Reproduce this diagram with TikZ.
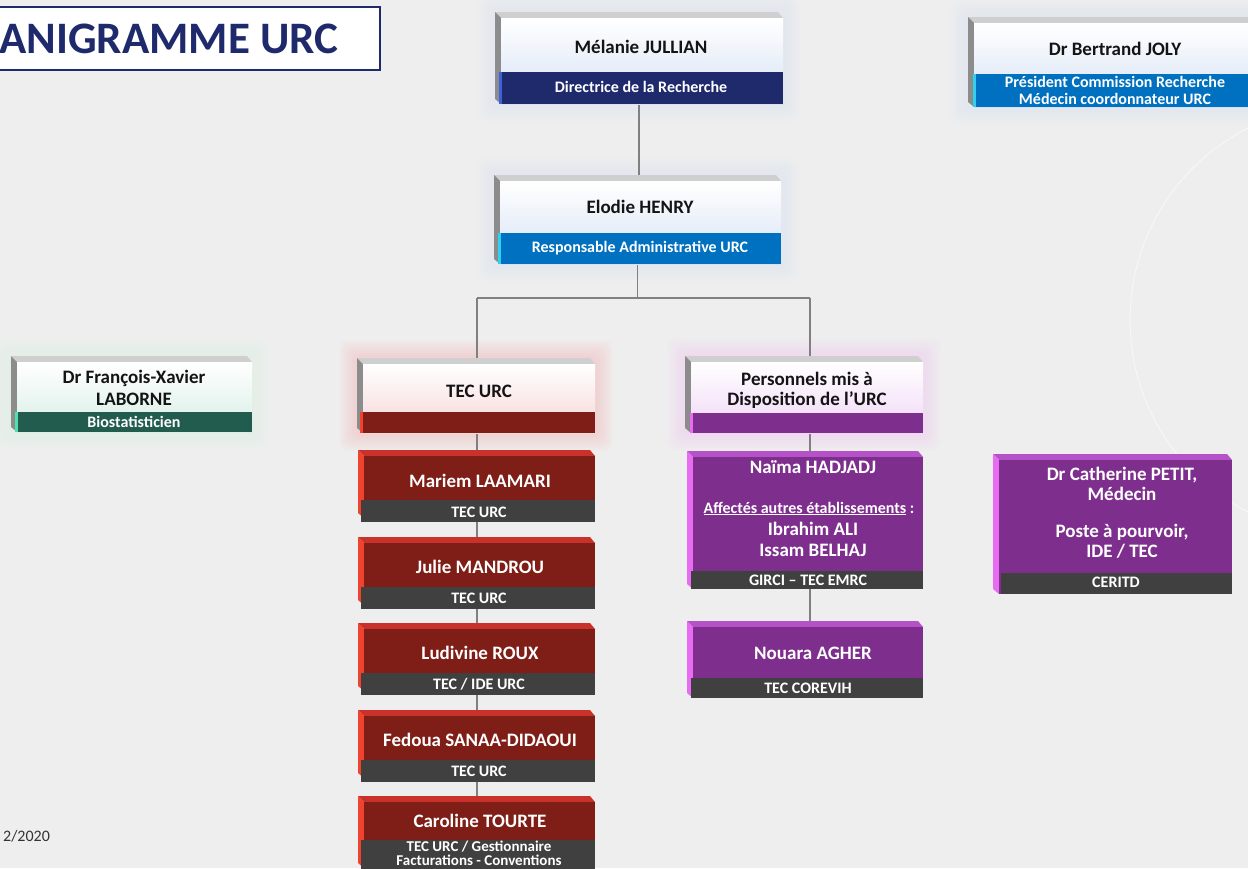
\documentclass[tikz,border=0pt]{standalone}
\usepackage{fontspec}
\setmainfont{Carlito}
\usetikzlibrary{fit}
\definecolor{bg}{HTML}{EEEEEE}
\definecolor{navy}{HTML}{1F2A6C}
\definecolor{navyedge}{HTML}{4060D8}
\definecolor{oblue}{HTML}{0070C0}
\definecolor{cyanedge}{HTML}{30D0F0}
\definecolor{dgreen}{HTML}{215C4F}
\definecolor{greenedge}{HTML}{50E0B0}
\definecolor{dred}{HTML}{7E1E16}
\definecolor{redtop}{HTML}{C8322A}
\definecolor{redside}{HTML}{F0432F}
\definecolor{purp}{HTML}{7E2F8E}
\definecolor{purptop}{HTML}{B552C8}
\definecolor{purpside}{HTML}{E86CF2}
\definecolor{gbar}{HTML}{404040}
\definecolor{wtop}{HTML}{CFCFCF}
\definecolor{wside}{HTML}{8C8C8C}
\definecolor{lineg}{HTML}{808080}
\definecolor{tblue}{HTML}{D6E2F4}
\definecolor{tred}{HTML}{F6D6D6}
\definecolor{tpurp}{HTML}{F0D6F6}
\definecolor{tgreen}{HTML}{D8EEE6}
\definecolor{txt}{HTML}{141414}
\newcommand\cardnode[5]{\node[fit={(#2,#3)(#4,#5)},inner sep=0pt] (#1) {};}
\newcommand\cardshape[7]{%
 \fill[#5] (#1,#2) -- (#3-5,#2) -- (#3,#2+6) -- (#1+6,#2+6) -- cycle;
 \fill[#6] (#1,#2) -- (#1+6,#2+6) -- (#1+6,#4) -- (#1,#4-5) -- cycle;
 \path[#7] (#1+6,#2+6) rectangle (#3,#4);
}
\newcommand\cardbar[6]{%
 \fill[#5] (#1,#2) rectangle (#3,#4);
 \fill[#6] (#1,#2) rectangle (#1+3,#4);
}
\newcommand\glowbox[5]{%
 \foreach \g in {1,...,7}{\fill[#5,opacity=0.06,rounded corners=8pt] (#1-2.5*\g,#2-2.5*\g) rectangle (#3+2.5*\g,#4+2.5*\g);}%
}
\begin{document}
\begin{tikzpicture}[x=1pt,y=-1pt,
 link/.style={draw=lineg, line width=1.3pt},
 nm/.style={anchor=base, font=\bfseries\fontsize{19}{21}\selectfont, text=txt, inner sep=0pt},
 wn/.style={nm, text=white},
 bt/.style={anchor=base, font=\bfseries\fontsize{16}{17}\selectfont, text=white, inner sep=0pt},
 bts/.style={bt, font=\bfseries\fontsize{15}{15}\selectfont}]
\useasboundingbox (0,0) rectangle (1248,868);
\clip (0,0) rectangle (1248,868);
\fill[bg] (0,0) rectangle (1248,868);
\draw[white, opacity=0.6, line width=0.8pt] (1345,320) circle (215);
% title
\draw[navy, fill=white, line width=1.8pt] (-5,7) rectangle (380,70);
\node[anchor=base west, inner sep=0pt, font=\bfseries\fontsize{45}{50}\selectfont, text=navy] (title) at (-1,53) {ANIGRAMME URC};
\node[anchor=base west, inner sep=0pt, font=\fontsize{16}{18}\selectfont, text=black!80] (date) at (3,841) {2/2020};
% nodes
\cardnode{melanie}{495}{12}{783}{104}
\cardnode{elodie}{494}{175}{781}{264}
\cardnode{bertrand}{968}{17}{1258}{107}
\cardnode{laborne}{11}{356}{252}{432}
\cardnode{tec}{357}{358}{595}{433}
\cardnode{pers}{685}{356}{923}{433}
\cardnode{naima}{687}{451}{923}{589}
\cardnode{nouara}{687}{621}{923}{698}
\cardnode{petit}{993}{454}{1232}{594}
\cardnode{c1}{358}{450}{595}{522}
\cardnode{c2}{358}{537}{595}{608}
\cardnode{c3}{358}{623}{595}{694}
\cardnode{c4}{358}{710}{595}{781}
\cardnode{c5}{358}{796}{595}{875}
% glows
\glowbox{495}{12}{783}{104}{tblue}
\glowbox{494}{175}{781}{264}{tblue}
\glowbox{968}{17}{1258}{107}{tblue}
\glowbox{11}{356}{252}{432}{tgreen}
\glowbox{357}{358}{595}{433}{red!35}
\glowbox{685}{356}{923}{433}{purpside!45}
% connectors
\coordinate (jL) at (477,298);
\coordinate (jR) at (810,298);
\draw[link] (melanie.south) -- (melanie.south |- elodie.north);
\draw[link] (elodie.south) -- (elodie.south |- jL);
\draw[link] (jL) -- (jR);
\draw[link] (jL) -- (jL |- tec.north);
\draw[link] (jR) -- (jR |- pers.north);
\draw[link] (jL |- tec.south) -- (jL |- c1.north);
\draw[link] (jL |- c1.south) -- (jL |- c2.north);
\draw[link] (jL |- c2.south) -- (jL |- c3.north);
\draw[link] (jL |- c3.south) -- (jL |- c4.north);
\draw[link] (jL |- c4.south) -- (jL |- c5.north);
\draw[link] (jR |- pers.south) -- (jR |- naima.north);
\draw[link] (jR |- naima.south) -- (jR |- nouara.north);
% white cards
\cardshape{495}{12}{783}{104}{wtop}{wside}{{top color=white,middle color=white,bottom color=tblue}}
\cardbar{499}{72}{783}{104}{navy}{navyedge}
\cardshape{494}{175}{781}{264}{wtop}{wside}{{top color=white,middle color=white,bottom color=tblue}}
\cardbar{498}{233}{781}{264}{oblue}{cyanedge}
\cardshape{968}{17}{1258}{107}{wtop}{wside}{{top color=white,middle color=white,bottom color=tblue}}
\cardbar{973}{74}{1258}{107}{oblue}{cyanedge}
\cardshape{11}{356}{252}{432}{wtop}{wside}{{top color=white,middle color=white,bottom color=tgreen}}
\cardbar{15}{412}{252}{432}{dgreen}{greenedge}
\cardshape{357}{358}{595}{433}{wtop}{wside}{{top color=white,middle color=white,bottom color=tred}}
\cardbar{360}{412}{595}{433}{dred}{redside}
\cardshape{685}{356}{923}{433}{wtop}{wside}{{top color=white,middle color=white,bottom color=tpurp}}
\cardbar{690}{413}{923}{433}{purp}{purpside}
% purple cards
\cardshape{687}{451}{923}{589}{purptop}{purpside}{{fill=purp}}
\cardbar{691}{571}{923}{589}{gbar}{gbar}
\cardshape{687}{621}{923}{698}{purptop}{purpside}{{fill=purp}}
\cardbar{691}{678}{923}{698}{gbar}{gbar}
\cardshape{993}{454}{1232}{594}{purptop}{purpside}{{fill=purp}}
\cardbar{1001}{573}{1232}{594}{gbar}{gbar}
% red cards
\foreach \t in {450,537,623,710}{
 \cardshape{358}{\t}{595}{\t+68}{redtop}{redside}{{fill=dred}}
 \cardbar{361}{\t+50}{595}{\t+72}{gbar}{gbar}
}
\cardshape{358}{796}{595}{868}{redtop}{redside}{{fill=dred}}
\cardbar{361}{840}{595}{875}{gbar}{gbar}
% texts
\node[nm] (t1) at (641,53) {Mélanie JULLIAN};
\node[bt] (t2) at (641,92) {Directrice de la Recherche};
\node[nm] (t3) at (640,213) {Elodie HENRY};
\node[bt] (t4) at (640,252) {Responsable Administrative URC};
\node[nm] (t5) at (1115,55) {Dr Bertrand JOLY};
\node[bt] (t6) at (1115,87) {Président Commission Recherche};
\node[bt] (t7) at (1115,104) {Médecin coordonnateur URC};
\node[nm] (t8) at (134,383) {Dr François-Xavier};
\node[nm] (t9) at (134,405) {LABORNE};
\node[bt] (t10) at (134,427) {Biostatisticien};
\node[nm] (t11) at (479,397) {TEC URC};
\node[nm] (t12) at (807,385) {Personnels mis à};
\node[nm] (t13) at (807,405) {Disposition de l’URC};
\node[wn] (t14) at (480,487) {Mariem LAAMARI};
\node[bt] (t15) at (479,517) {TEC URC};
\node[wn] (t16) at (480,573) {Julie MANDROU};
\node[bt] (t17) at (479,603) {TEC URC};
\node[wn] (t18) at (480,659) {Ludivine ROUX};
\node[bt] (t19) at (479,689) {TEC / IDE URC};
\node[wn] (t20) at (480,746) {Fedoua SANAA-DIDAOUI};
\node[bt] (t21) at (479,776) {TEC URC};
\node[wn] (t22) at (480,827) {Caroline TOURTE};
\node[bts] (t23) at (479,851) {TEC URC / Gestionnaire};
\node[bts] (t24) at (479,865) {Facturations - Conventions};
\node[wn] (t25) at (813,473) {Naïma HADJADJ};
\node[bt] (t26) at (809,513) {\underline{Affectés autres établissements}~:};
\node[wn] (t27) at (813,535) {Ibrahim ALI};
\node[wn] (t28) at (813,556) {Issam BELHAJ};
\node[bt] (t29) at (808,585) {GIRCI – TEC EMRC};
\node[wn] (t30) at (813,659) {Nouara AGHER};
\node[bt] (t31) at (808,693) {TEC COREVIH};
\node[wn] (t32) at (1122,480) {Dr Catherine PETIT,};
\node[wn] (t33) at (1122,500) {Médecin};
\node[wn] (t34) at (1122,537) {Poste à pourvoir,};
\node[wn] (t35) at (1122,557) {IDE / TEC};
\node[bt] (t36) at (1116,587) {CERITD};
\end{tikzpicture}
\end{document}
